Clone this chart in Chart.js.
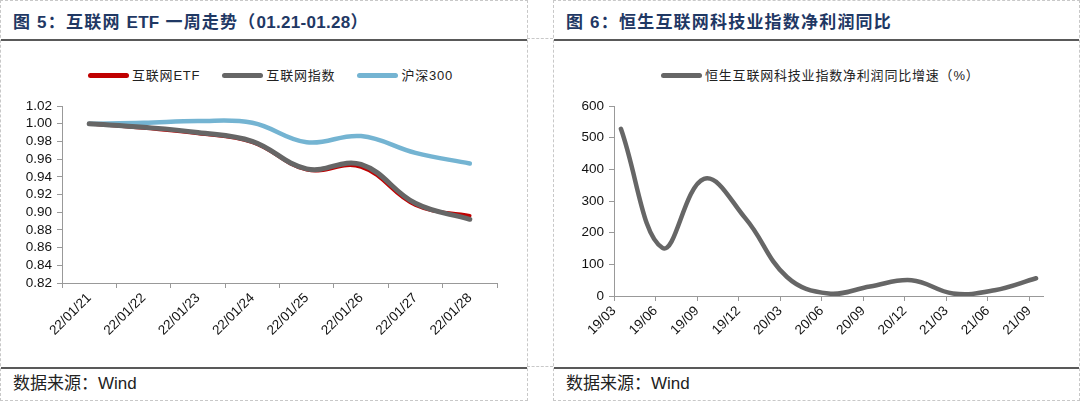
<!DOCTYPE html>
<html>
<head>
<meta charset="utf-8">
<script src="https://cdn.jsdelivr.net/npm/chart.js@4.4.1/dist/chart.umd.min.js"></script>
<style>
  html, body { margin: 0; padding: 0; background: #fff; }
  body { width: 1080px; height: 403px; position: relative; overflow: hidden;
         font-family: "Liberation Sans", "Noto Sans CJK SC", sans-serif; }
  .panel { position: absolute; top: 0; height: 401px; border: 1px dashed #c8c8c8; box-sizing: border-box; }
  .title { position: absolute; left: 12px; top: 7px; font-size: 17px; font-weight: bold; color: #1f3864;
           font-family: "Liberation Sans", "Noto Sans CJK SC", sans-serif; letter-spacing: 1.2px; white-space: nowrap; }
  .title em { font-style: normal; letter-spacing: 0.3px; }
  .rule { position: absolute; left: 0; right: 0; height: 2px; background: #595959; }
  .source { position: absolute; left: 12px; top: 368px; font-size: 17px; color: #222; white-space: nowrap;
            font-family: "Liberation Sans", "Noto Sans CJK SC", sans-serif; }
  .legend { position: absolute; top: 64px; font-size: 13px; color: #222; white-space: nowrap;
            font-family: "Liberation Sans", "Noto Sans CJK SC", sans-serif; }
  .legend span.item { display: inline-block; margin-right: 22px; }
  .legend i { display: inline-block; width: 41px; height: 5px; border-radius: 3px; vertical-align: middle; margin-right: 3px; position: relative; top: -1px; }
  .legend b { font-weight: normal; letter-spacing: 0.8px; }
  canvas { position: absolute; }
  .gap { position: absolute; border-top: 1px dashed #c8c8c8; width: 26px; left: 527px; }
</style>
</head>
<body>
<div class="panel" style="left:0; width:528px;">
  <div class="title">图 5：互联网 <em>ETF</em> 一周走势（<em>01.21-01.28</em>）</div>
  <div class="rule" style="top:38px;"></div>
  <div class="legend" id="legend1" style="left:87px;"></div>
  <div class="rule" style="top:366px;"></div>
  <div class="source">数据来源：Wind</div>
</div>
<div class="panel" style="left:553px; width:527px;">
  <div class="title">图 6：恒生互联网科技业指数净利润同比</div>
  <div class="rule" style="top:38px;"></div>
  <div class="legend" id="legend2" style="left:107px;"></div>
  <div class="rule" style="top:366px;"></div>
  <div class="source">数据来源：Wind</div>
</div>
<div class="gap" style="top:38px;"></div>
<div class="gap" style="top:366px;"></div>
<canvas id="c1" style="left:0; top:45px;"></canvas>
<canvas id="c2" style="left:553px; top:45px;"></canvas>
<script>
// 图5 data: weekly trend (normalized to 1 at 01/21)
var days = ['22/01/21', '22/01/22', '22/01/23', '22/01/24', '22/01/25', '22/01/26', '22/01/27', '22/01/28'];
var etf = [1.000, 0.995, 0.989, 0.979, 0.948, 0.951, 0.908, 0.896];
var netIndex = [1.000, 0.996, 0.990, 0.980, 0.949, 0.954, 0.910, 0.892];
var hs300 = [1.000, 1.001, 1.003, 1.001, 0.979, 0.986, 0.967, 0.955];
var yTicks1 = [0.82, 0.84, 0.86, 0.88, 0.90, 0.92, 0.94, 0.96, 0.98, 1.00, 1.02];

// 图6 data: quarterly net profit growth (%)
var quarters = ['19/03', '19/06', '19/09', '19/12', '20/03', '20/06', '20/09', '20/12', '21/03', '21/06', '21/09'];
var growth = [528, 152, 370, 245, 60, 8, 30, 50, 8, 18, 56];

var RED = '#c00000', GRAY = '#666666', BLUE = '#74b4d2';
var tickFont = { family: '"Liberation Sans", Arial, sans-serif', size: 13.5 };

// simple HTML legends
function makeLegend(id, items) {
    var el = document.getElementById(id);
    items.forEach(function (it) {
        var s = document.createElement('span');
        s.className = 'item';
        s.innerHTML = '<i style="background:' + it[1] + '"></i><b>' + it[0] + '</b>';
        el.appendChild(s);
    });
}
makeLegend('legend1', [['互联网ETF', RED], ['互联网指数', GRAY], ['沪深300', BLUE]]);
makeLegend('legend2', [['恒生互联网科技业指数净利润同比增速（%）', GRAY]]);

function fixWidth(w) { return function (s) { s.width = w; }; }
function fixHeight(h) { return function (s) { s.height = h; }; }

var axisGrid = { display: true, drawOnChartArea: false, drawTicks: true, tickLength: 5, color: '#999' };
var axisBorder = { display: true, color: '#999', width: 1 };

// chart 1
var c1 = document.getElementById('c1');
c1.style.width = '528px'; c1.style.height = '320px';
new Chart(c1, {
    type: 'line',
    data: {
        labels: days,
        datasets: [
            { label: '互联网指数', data: netIndex, borderColor: GRAY, borderWidth: 5, order: 0 },
            { label: '互联网ETF', data: etf, borderColor: RED, borderWidth: 3.5, order: 1 },
            { label: '沪深300', data: hs300, borderColor: BLUE, borderWidth: 4.5, order: 2 }
        ]
    },
    options: {
        responsive: false, animation: false, devicePixelRatio: 1,
        layout: { padding: { left: 0, right: 31, top: 61, bottom: 0 } },
        elements: { point: { radius: 0 }, line: { tension: 0.4, borderCapStyle: 'round', fill: false } },
        plugins: { legend: { display: false }, tooltip: { enabled: false } },
        scales: {
            x: {
                offset: true,
                grid: Object.assign({}, axisGrid, { offset: true }),
                border: axisBorder,
                ticks: { color: '#111', font: tickFont, maxRotation: 45, minRotation: 45, padding: 2, autoSkip: false },
                afterFit: fixHeight(82)
            },
            y: {
                min: 0.82, max: 1.02,
                afterBuildTicks: function (s) { s.ticks = yTicks1.map(function (v) { return { value: v }; }); },
                grid: axisGrid,
                border: axisBorder,
                ticks: { color: '#111', font: tickFont, padding: 5, autoSkip: false,
                         callback: function (v) { return v.toFixed(2); } },
                afterFit: fixWidth(62)
            }
        }
    }
});

// chart 2
var c2 = document.getElementById('c2');
c2.style.width = '527px'; c2.style.height = '320px';
new Chart(c2, {
    type: 'line',
    data: {
        datasets: [
            { label: '恒生互联网科技业指数净利润同比增速（%）',
              data: growth.map(function (v, i) { return { x: i * 3 + 0.5, y: v }; }),
              borderColor: GRAY, borderWidth: 4.5 }
        ]
    },
    options: {
        responsive: false, animation: false, devicePixelRatio: 1,
        layout: { padding: { left: 0, right: 37, top: 61, bottom: 0 } },
        elements: { point: { radius: 0 }, line: { tension: 0.4, borderCapStyle: 'round', fill: false } },
        plugins: { legend: { display: false }, tooltip: { enabled: false } },
        scales: {
            x: {
                type: 'linear', min: 0, max: 31,
                grid: axisGrid,
                border: axisBorder,
                ticks: { stepSize: 3, includeBounds: false, color: '#111', font: tickFont,
                         maxRotation: 45, minRotation: 45, padding: 2, autoSkip: false,
                         callback: function (v) { return quarters[v / 3]; } },
                afterFit: fixHeight(69)
            },
            y: {
                min: 0, max: 600,
                grid: axisGrid,
                border: axisBorder,
                ticks: { stepSize: 100, color: '#111', font: tickFont, padding: 5, autoSkip: false },
                afterFit: fixWidth(61)
            }
        }
    }
});
</script>
</body>
</html>
